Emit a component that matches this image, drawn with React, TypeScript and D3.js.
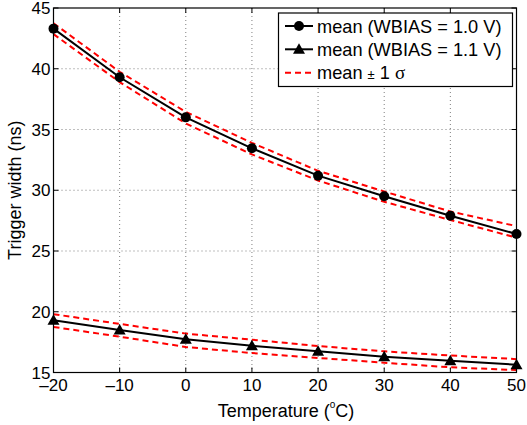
import React from "react";
import * as d3 from "d3";

const temps = [-20, -10, 0, 10, 20, 30, 40, 50];
const mean10 = [43.3, 39.3, 36.0, 33.45, 31.2, 29.5, 27.9, 26.4];
const upper10 = [43.75, 39.75, 36.45, 33.9, 31.6, 29.9, 28.25, 27.05];
const lower10 = [42.85, 38.9, 35.5, 32.95, 30.8, 29.05, 27.55, 26.1];
const mean11 = [19.3, 18.5, 17.73, 17.2, 16.74, 16.3, 15.97, 15.64];
const upper11 = [19.8, 19.0, 18.2, 17.7, 17.18, 16.74, 16.4, 16.1];
const lower11 = [18.75, 17.95, 17.1, 16.6, 16.2, 15.8, 15.43, 15.2];
const xTicks = [-20, -10, 0, 10, 20, 30, 40, 50];
const yTicks = [15, 20, 25, 30, 35, 40, 45];
const legendLabels = ["mean (WBIAS = 1.0 V)", "mean (WBIAS = 1.1 V)"];

const W = 527;
const H = 425;
const L = 53.5, R = 516.5, T = 8, B = 372.5;
const FONT = "'Liberation Sans', Arial, Helvetica, sans-serif";

export default function App() {
  const x = d3.scaleLinear().domain([-20, 50]).range([L, R]);
  const y = d3.scaleLinear().domain([15, 45]).range([B, T]);
  const line = (vals: number[]) =>
    d3.line<number>().x((_, i) => x(temps[i])).y((v) => y(v))(vals) || "";
  const tri = (cx: number, cy: number, s = 6) =>
    `M${cx},${cy - s}L${cx + s},${cy + s * 0.75}L${cx - s},${cy + s * 0.75}Z`;

  return (
    <svg
      width={W}
      height={H}
      style={{ position: "absolute", left: 0, top: 0, background: "#fff" }}
      fontFamily={FONT}
    >
      <rect x={0} y={0} width={W} height={H} fill="#fff" />
      {/* grid */}
      {xTicks.slice(1, -1).map((t) => (
        <line key={"gx" + t} x1={x(t)} x2={x(t)} y1={T} y2={B} stroke="#7f7f7f" strokeWidth={1} strokeDasharray="1,3" />
      ))}
      {yTicks.slice(1, -1).map((t) => (
        <line key={"gy" + t} x1={L} x2={R} y1={y(t)} y2={y(t)} stroke="#7f7f7f" strokeWidth={1} strokeDasharray="1,3" />
      ))}
      {/* ticks */}
      {xTicks.map((t) => (
        <g key={"tx" + t}>
          <line x1={x(t)} x2={x(t)} y1={B} y2={B - 5} stroke="#000" />
          <line x1={x(t)} x2={x(t)} y1={T} y2={T + 5} stroke="#000" />
          <text x={x(t)} y={B + 18.5} fontSize={17} textAnchor="middle">
            {t < 0 ? "\u2013" + Math.abs(t) : String(t)}
          </text>
        </g>
      ))}
      {yTicks.map((t) => (
        <g key={"ty" + t}>
          <line x1={L} x2={L + 5} y1={y(t)} y2={y(t)} stroke="#000" />
          <line x1={R} x2={R - 5} y1={y(t)} y2={y(t)} stroke="#000" />
          <text x={L - 3} y={y(t) + 6} fontSize={17} textAnchor="end">
            {t}
          </text>
        </g>
      ))}
      {/* data */}
      <path d={line(mean10)} fill="none" stroke="#000" strokeWidth={2} />
      <path d={line(mean11)} fill="none" stroke="#000" strokeWidth={2} />
      {[upper10, lower10, upper11, lower11].map((s, i) => (
        <path key={"b" + i} d={line(s)} fill="none" stroke="#ff0000" strokeWidth={2} strokeDasharray="6,4" />
      ))}
      {mean10.map((v, i) => (
        <circle key={"c" + i} cx={x(temps[i])} cy={y(v)} r={5} fill="#000" />
      ))}
      {mean11.map((v, i) => (
        <path key={"t" + i} d={tri(x(temps[i]), y(v))} fill="#000" />
      ))}
      {/* axes box */}
      <rect x={L} y={T} width={R - L} height={B - T} fill="none" stroke="#000" strokeWidth={1.2} />
      {/* labels */}
      <text x={286} y={417} fontSize={18} textAnchor="middle">
        Temperature (<tspan fontSize={10} dy={-9}>o</tspan><tspan dy={9}>C)</tspan>
      </text>
      <text transform={`translate(21,${(T + B) / 2}) rotate(-90)`} fontSize={18} textAnchor="middle">
        Trigger width (ns)
      </text>
      {/* legend */}
      <g>
        <rect x={278.5} y={13} width={234} height={73.5} fill="#fff" stroke="#000" strokeWidth={1.2} />
        <line x1={285} x2={313} y1={26} y2={26} stroke="#000" strokeWidth={2} />
        <circle cx={299} cy={26} r={5} fill="#000" />
        <line x1={285} x2={313} y1={49.3} y2={49.3} stroke="#000" strokeWidth={2} />
        <path d={tri(299, 49.3)} fill="#000" />
        <line x1={285} x2={313} y1={72.7} y2={72.7} stroke="#ff0000" strokeWidth={2} strokeDasharray="6,4" />
        <text x={317} y={32.5} fontSize={18.2}>{legendLabels[0]}</text>
        <text x={317} y={55.8} fontSize={18.2}>{legendLabels[1]}</text>
        <text x={317} y={79.2} fontSize={18.2}>
          mean <tspan fontSize={13}>±</tspan> 1 <tspan fontFamily="'Liberation Serif', 'DejaVu Serif', serif" fontSize={19}>σ</tspan>
        </text>
      </g>
    </svg>
  );
}
